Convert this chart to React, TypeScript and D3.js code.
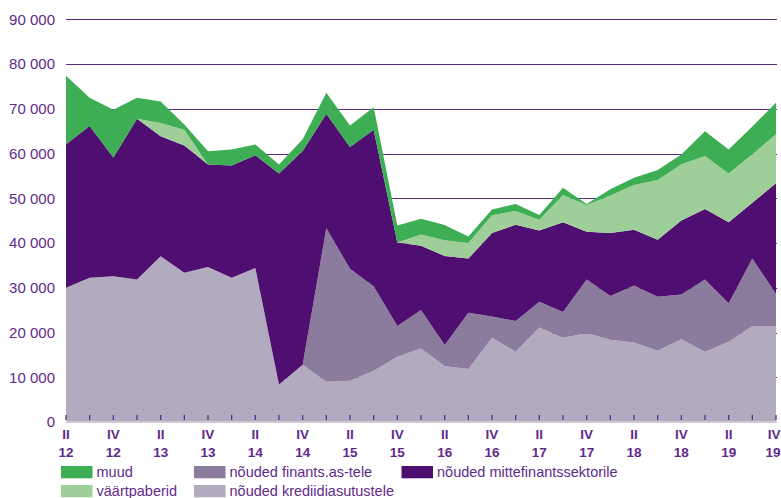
import React from "react";
import * as d3 from "d3";

const quarters = [
  "II 12", "III 12", "IV 12",
  "I 13", "II 13", "III 13", "IV 13",
  "I 14", "II 14", "III 14", "IV 14",
  "I 15", "II 15", "III 15", "IV 15",
  "I 16", "II 16", "III 16", "IV 16",
  "I 17", "II 17", "III 17", "IV 17",
  "I 18", "II 18", "III 18", "IV 18",
  "I 19", "II 19", "III 19", "IV 19",
];

const kred = [30000, 32220, 32580, 31840, 37020, 33330, 34660, 32220, 34440, 8360, 12800, 9020, 9240, 11470, 14580, 16440, 12500, 11840, 18800, 15690, 21110, 18800, 19840, 18360, 17780, 15910, 18510, 15690, 17910, 21470, 21470];
const fin = [0, 0, 0, 0, 0, 0, 0, 0, 0, 0, 0, 34310, 24980, 18880, 6890, 8580, 4680, 12600, 4750, 6890, 5780, 5780, 12000, 9770, 12730, 12090, 10000, 16150, 8600, 15040, 7190];
const mitte = [32060, 33910, 26520, 35930, 26820, 28440, 22890, 25110, 25180, 47190, 47780, 25550, 27240, 34980, 18660, 14380, 19920, 12070, 18670, 21480, 15910, 20080, 10670, 14090, 12440, 12730, 16510, 15780, 18150, 12510, 24670];
const vp = [0, 0, 0, 0, 2960, 3560, 0, 0, 0, 0, 0, 0, 0, 0, 0, 2510, 3500, 3490, 3990, 3110, 2370, 6070, 6000, 8380, 10000, 13340, 12600, 11840, 10890, 10820, 10950];
const muud = [15340, 6310, 10670, 4670, 4820, 1170, 2950, 3550, 2380, 2000, 2590, 4670, 4820, 5020, 3780, 3490, 3400, 1470, 1260, 1560, 1110, 1620, 220, 1400, 1630, 2220, 2150, 5490, 5330, 6220, 7050];

const yTicks = [0, 10000, 20000, 30000, 40000, 50000, 60000, 70000, 80000, 90000];

const seriesKeys = ["kred", "fin", "mitte", "vp", "muud"];
const seriesNames: Record<string, string> = {
  muud: "muud",
  vp: "väärtpaberid",
  fin: "nõuded finants.as-tele",
  kred: "nõuded krediidiasutustele",
  mitte: "nõuded mittefinantssektorile",
};
const colors: Record<string, string> = {
  muud: "#3dae53",
  vp: "#9fcf98",
  fin: "#8b7b9c",
  mitte: "#4f0f70",
  kred: "#b2aabe",
};

const TEXT = "#5f2a8a";
const FONT = "'Liberation Sans', Arial, sans-serif";

export default function App() {
  const W = 781;
  const H = 498;
  const x0 = 66;
  const x1 = 776;

  const rows = quarters.map((q, i) => ({
    q,
    kred: kred[i],
    fin: fin[i],
    mitte: mitte[i],
    vp: vp[i],
    muud: muud[i],
  }));

  const x = d3.scaleLinear().domain([0, quarters.length - 1]).range([x0, x1]);
  const y = d3.scaleLinear().domain([0, 90000]).range([422, 19.25]);

  const stack = d3.stack<any>().keys(seriesKeys);
  const layers = stack(rows);

  const area = d3
    .area<any>()
    .x((_d, i) => x(i))
    .y0((d) => y(d[0]))
    .y1((d) => y(d[1]));

  const locale = d3.formatLocale({ decimal: ",", thousands: " ", grouping: [3], currency: ["", ""] });
  const fmt = locale.format(",d");

  const legendItems = [
    { key: "muud", sx: 61, row: 0 },
    { key: "fin", sx: 194, row: 0 },
    { key: "mitte", sx: 401.5, row: 0 },
    { key: "vp", sx: 61, row: 1 },
    { key: "kred", sx: 194, row: 1 },
  ];

  const last = quarters.length - 1;

  return (
    <svg
      width={W}
      height={H}
      style={{ position: "fixed", left: 0, top: 0, display: "block", background: "#fff" }}
      fontFamily={FONT}
    >
      {/* gridlines */}
      {yTicks
        .filter((t) => t > 0)
        .map((t) => (
          <line
            key={"g" + t}
            x1={x0}
            x2={777}
            y1={Math.round(y(t)) + 0.5}
            y2={Math.round(y(t)) + 0.5}
            stroke="#5a2a82"
            strokeWidth={1.2}
          />
        ))}

      {/* areas */}
      {layers.map((layer) => (
        <path key={layer.key} d={area(layer) || ""} fill={colors[layer.key]} />
      ))}

      {/* bottom line */}
      <line x1={x0} x2={777} y1={422} y2={422} stroke="#cdc8d4" strokeWidth={2} />

      {/* x ticks */}
      {quarters.map((q, i) => (
        <line
          key={"t" + i}
          x1={x(i)}
          x2={x(i)}
          y1={415}
          y2={420}
          stroke={TEXT}
          strokeWidth={1.3}
        />
      ))}

      {/* y labels */}
      {yTicks.map((t) => (
        <text
          key={"y" + t}
          x={55}
          y={y(t)}
          dy="0.36em"
          textAnchor="end"
          fontSize={15}
          fill={TEXT}
        >
          {fmt(t)}
        </text>
      ))}

      {/* x labels */}
      {quarters.map((q, i) => {
        if (i % 2 !== 0) return null;
        const [qq, yy] = q.split(" ");
        const isLast = i === last;
        const lx = isLast ? 780.5 : x(i);
        const anchor = isLast ? "end" : "middle";
        return (
          <g key={"xl" + i}>
            <text x={lx} y={439} textAnchor={anchor} fontSize={13.5} fontWeight="bold" fill={TEXT}>
              {qq}
            </text>
            <text x={lx} y={456.5} textAnchor={anchor} fontSize={13.5} fontWeight="bold" fill={TEXT}>
              {yy}
            </text>
          </g>
        );
      })}

      {/* legend */}
      {legendItems.map((it) => {
        const top = it.row === 0 ? 466 : 485;
        return (
          <g key={"lg" + it.key}>
            <rect x={it.sx} y={top} width={31.5} height={12.3} fill={colors[it.key]} />
            <text x={it.sx + 35.5} y={top + 11.3} fontSize={14.5} fill={TEXT}>
              {seriesNames[it.key]}
            </text>
          </g>
        );
      })}
    </svg>
  );
}
